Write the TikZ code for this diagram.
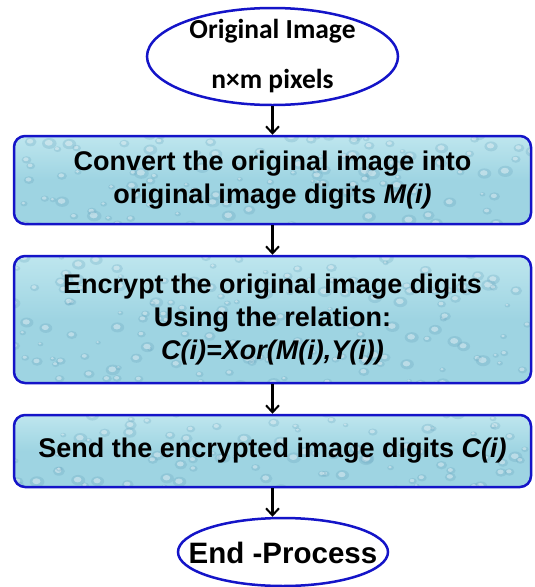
\documentclass[tikz,border=0pt]{standalone}
\usepackage{fontspec}
\setmainfont{Liberation Sans}
\newfontfamily\calibfont{Carlito}
\usetikzlibrary{arrows.meta,shapes.geometric}

\definecolor{edgeblue}{RGB}{20,20,200}
\definecolor{waterbase}{RGB}{158,212,226}
\definecolor{waterlight}{RGB}{190,230,238}
\definecolor{waterdark}{RGB}{105,165,190}

% text of fixed-size nodes: no width or height of its own
\newcommand{\flatlabel}[2]{\smash{\makebox[0pt]{\raisebox{#1}{#2}}}}

\tikzset{
  terminal/.style={ellipse, draw=edgeblue, line width=2.5pt, fill=white,
    inner sep=0pt, align=center, text=black},
  stepbox/.style={rectangle, rounded corners=11pt, draw=edgeblue, line width=2.5pt,
    top color=waterlight, bottom color=waterbase, middle color=waterbase,
    minimum width=517pt, inner sep=0pt, align=center, text=black,
    font=\fontsize{27}{33}\selectfont\bfseries,
    path picture={
      \foreach \k in {1,...,160}{
        \pgfmathsetmacro{\dx}{rand*262}
        \pgfmathsetmacro{\dy}{rand*66}
        \pgfmathsetmacro{\rr}{2.5+5*abs(rand)}
        \fill[waterdark,opacity=0.28]
          ([shift={(\dx pt,\dy pt)}]path picture bounding box.center)
          ellipse ({\rr pt} and {0.75*\rr pt});
        \fill[white,opacity=0.4]
          ([shift={(\dx pt-0.6pt,\dy pt+0.6pt)}]path picture bounding box.center)
          ellipse ({0.55*\rr pt} and {0.4*\rr pt});
      }
    }},
  flow/.style={-{Straight Barb[length=7pt,width=13pt,line width=2pt]}, line width=2.3pt, black}
}

\begin{document}
\begin{tikzpicture}[x=1pt,y=-1pt]
  \pgfmathsetseed{7}
  \useasboundingbox (0,0) rectangle (535,587);
  \fill[white] (0,0) rectangle (535,587);

  \node[terminal, minimum width=251pt, minimum height=97pt,
        font=\calibfont\fontsize{27.5}{50}\selectfont\bfseries]
    (start) at (272.5,56.5)
    {\flatlabel{-6.5pt}{Original Image}\\\flatlabel{-6.5pt}{n×m pixels}};

  \node[stepbox, minimum height=88pt] (convert) at (272.5,180)
    {Convert the original image into\\original image digits \textit{M(i)}};

  \node[stepbox, minimum height=127pt] (encrypt) at (272.5,319.5)
    {Encrypt the original image digits\\Using the relation:\\\textit{C(i)=Xor(M(i),Y(i))}};

  \node[stepbox, minimum height=72pt] (send) at (272.5,451)
    {Send the encrypted image digits \textit{C(i)}};

  \node[terminal, minimum width=210pt, minimum height=68pt,
        font=\fontsize{29.5}{32}\selectfont\bfseries]
    (finish) at (283,552) {\flatlabel{-11pt}{End -Process}};

  \draw[flow] (start.south) -- (convert.north);
  \draw[flow] (convert.south) -- (encrypt.north);
  \draw[flow] (encrypt.south) -- (send.north);
  \draw[flow] (send.south) -- (send.south |- finish.north);
\end{tikzpicture}
\end{document}
